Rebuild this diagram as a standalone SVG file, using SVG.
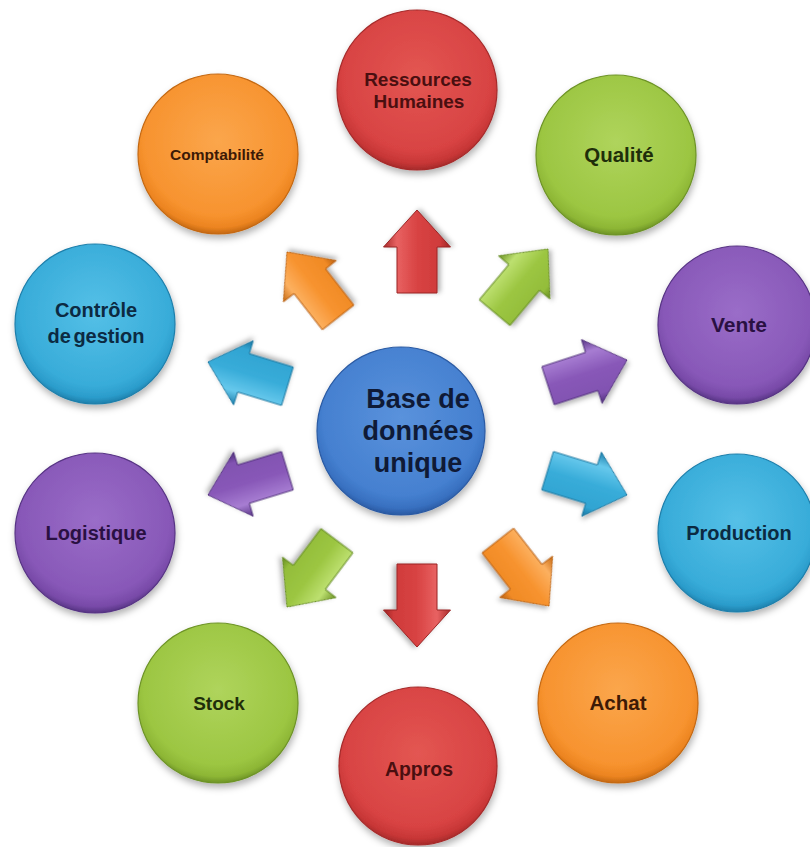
<svg xmlns="http://www.w3.org/2000/svg" width="810" height="847" viewBox="0 0 810 847">
<style>
  text { font-family: "Liberation Sans", Arial, sans-serif; font-weight: bold; text-anchor: middle; }
  .node circle { stroke-width: 1.2; filter: url(#sh); }
  .tRed { fill: #4a0f10; } .tOra { fill: #3d1a06; } .tGre { fill: #1f2e0a; }
  .tCya { fill: #0c2a42; } .tPur { fill: #2a1042; } .tBlu { fill: #0f1a36; }
  .arrows use { filter: url(#sh2); stroke-width: 1; stroke-linejoin: round; }
</style>
<defs>
  <filter id="sh" x="-20%" y="-20%" width="140%" height="150%">
    <feDropShadow dx="1" dy="4" stdDeviation="3.5" flood-color="#000" flood-opacity="0.3"/>
  </filter>
  <filter id="sh2" x="-30%" y="-30%" width="160%" height="160%">
    <feDropShadow dx="1" dy="3" stdDeviation="2.5" flood-color="#000" flood-opacity="0.3"/>
  </filter>
  <radialGradient id="cRed" cx="50%" cy="42%" r="58%"><stop offset="0" stop-color="#e35652"/><stop offset="0.8" stop-color="#d84343"/><stop offset="0.93" stop-color="#c73636"/><stop offset="1" stop-color="#a52a2a"/></radialGradient>
  <radialGradient id="cOra" cx="50%" cy="42%" r="58%"><stop offset="0" stop-color="#fba64c"/><stop offset="0.8" stop-color="#f7932f"/><stop offset="0.93" stop-color="#ec8420"/><stop offset="1" stop-color="#c46812"/></radialGradient>
  <radialGradient id="cGre" cx="50%" cy="42%" r="58%"><stop offset="0" stop-color="#afd45c"/><stop offset="0.8" stop-color="#9cc642"/><stop offset="0.93" stop-color="#8db635"/><stop offset="1" stop-color="#6d9326"/></radialGradient>
  <radialGradient id="cCya" cx="50%" cy="42%" r="58%"><stop offset="0" stop-color="#55c0e7"/><stop offset="0.8" stop-color="#38acd9"/><stop offset="0.93" stop-color="#2b9ccb"/><stop offset="1" stop-color="#1e7fab"/></radialGradient>
  <radialGradient id="cPur" cx="50%" cy="42%" r="58%"><stop offset="0" stop-color="#9a6dc8"/><stop offset="0.8" stop-color="#8858b8"/><stop offset="0.93" stop-color="#784aa8"/><stop offset="1" stop-color="#573484"/></radialGradient>
  <radialGradient id="cBlu" cx="50%" cy="42%" r="58%"><stop offset="0" stop-color="#5a92dc"/><stop offset="0.8" stop-color="#4580d0"/><stop offset="0.93" stop-color="#3870c0"/><stop offset="1" stop-color="#2a5aa3"/></radialGradient>

  <linearGradient id="aRed" x1="0" y1="0" x2="0" y2="1"><stop offset="0" stop-color="#a82a2a"/><stop offset="0.2" stop-color="#e86262"/><stop offset="0.5" stop-color="#d84343"/><stop offset="0.85" stop-color="#cf3b3b"/><stop offset="1" stop-color="#9a2424"/></linearGradient>
  <linearGradient id="aOra" x1="0" y1="0" x2="0" y2="1"><stop offset="0" stop-color="#c46812"/><stop offset="0.2" stop-color="#fcb060"/><stop offset="0.5" stop-color="#f7932f"/><stop offset="0.85" stop-color="#f08a25"/><stop offset="1" stop-color="#b96010"/></linearGradient>
  <linearGradient id="aGre" x1="0" y1="0" x2="0" y2="1"><stop offset="0" stop-color="#6d9326"/><stop offset="0.2" stop-color="#bde070"/><stop offset="0.5" stop-color="#9cc642"/><stop offset="0.85" stop-color="#93bd3a"/><stop offset="1" stop-color="#648a22"/></linearGradient>
  <linearGradient id="aCya" x1="0" y1="0" x2="0" y2="1"><stop offset="0" stop-color="#1e7fab"/><stop offset="0.2" stop-color="#66c8ec"/><stop offset="0.5" stop-color="#38acd9"/><stop offset="0.85" stop-color="#31a4d2"/><stop offset="1" stop-color="#1b76a0"/></linearGradient>
  <linearGradient id="aPur" x1="0" y1="0" x2="0" y2="1"><stop offset="0" stop-color="#573484"/><stop offset="0.2" stop-color="#a77dd2"/><stop offset="0.5" stop-color="#8858b8"/><stop offset="0.85" stop-color="#8152b1"/><stop offset="1" stop-color="#50307a"/></linearGradient>

  <path id="arw" d="M -83 -20 L -37 -20 L -37 -33.5 L 0 0 L -37 33.5 L -37 20 L -83 20 Z"/>
</defs>

<rect width="810" height="847" fill="#ffffff"/>

<g id="connectors" class="arrows">
  <use href="#arw" transform="translate(417,210) rotate(-90)" fill="url(#aRed)" stroke="#9a2424"/>
  <use href="#arw" transform="translate(548,249) rotate(-50)" fill="url(#aGre)" stroke="#648a22"/>
  <use href="#arw" transform="translate(627,360) rotate(-18)" fill="url(#aPur)" stroke="#50307a"/>
  <use href="#arw" transform="translate(627,495) rotate(17)" fill="url(#aCya)" stroke="#1b76a0"/>
  <use href="#arw" transform="translate(549,606) rotate(52)" fill="url(#aOra)" stroke="#b96010"/>
  <use href="#arw" transform="translate(417,647) rotate(90)" fill="url(#aRed)" stroke="#9a2424"/>
  <use href="#arw" transform="translate(287,607) rotate(127)" fill="url(#aGre)" stroke="#648a22"/>
  <use href="#arw" transform="translate(208,495) rotate(163)" fill="url(#aPur)" stroke="#50307a"/>
  <use href="#arw" transform="translate(208,362) rotate(-163)" fill="url(#aCya)" stroke="#1b76a0"/>
  <use href="#arw" transform="translate(287,252) rotate(-128)" fill="url(#aOra)" stroke="#b96010"/>
</g>

<g id="node-base" class="node">
  <circle cx="401" cy="431" r="84" fill="url(#cBlu)" stroke="#2a5aa3"/>
  <text class="tBlu" font-size="27" x="418" y="408">Base de</text>
  <text class="tBlu" font-size="27" x="418" y="440">données</text>
  <text class="tBlu" font-size="27" x="418" y="472">unique</text>
</g>

<g id="node-rh" class="node">
  <circle cx="417" cy="90" r="80" fill="url(#cRed)" stroke="#a52a2a"/>
  <text class="tRed" font-size="19" x="418" y="86">Ressources</text>
  <text class="tRed" font-size="19" x="419" y="108">Humaines</text>
</g>

<g id="node-qualite" class="node">
  <circle cx="616" cy="155" r="80" fill="url(#cGre)" stroke="#6d9326"/>
  <text class="tGre" font-size="20.5" x="619" y="162">Qualité</text>
</g>

<g id="node-comptabilite" class="node">
  <circle cx="218" cy="154" r="80" fill="url(#cOra)" stroke="#c46812"/>
  <text class="tOra" font-size="15.5" x="217" y="160">Comptabilité</text>
</g>

<g id="node-controle" class="node">
  <circle cx="95" cy="324" r="80" fill="url(#cCya)" stroke="#1e7fab"/>
  <text class="tCya" font-size="20" x="96" y="317">Contrôle</text>
  <text class="tCya" font-size="20" x="96" y="343" word-spacing="-3">de gestion</text>
</g>

<g id="node-vente" class="node">
  <circle cx="737" cy="325" r="79" fill="url(#cPur)" stroke="#573484"/>
  <text class="tPur" font-size="21" x="739" y="332">Vente</text>
</g>

<g id="node-logistique" class="node">
  <circle cx="95" cy="533" r="80" fill="url(#cPur)" stroke="#573484"/>
  <text class="tPur" font-size="20" x="96" y="540">Logistique</text>
</g>

<g id="node-production" class="node">
  <circle cx="737" cy="533" r="79" fill="url(#cCya)" stroke="#1e7fab"/>
  <text class="tCya" font-size="20" x="739" y="540">Production</text>
</g>

<g id="node-stock" class="node">
  <circle cx="218" cy="703" r="80" fill="url(#cGre)" stroke="#6d9326"/>
  <text class="tGre" font-size="19" x="219" y="710">Stock</text>
</g>

<g id="node-achat" class="node">
  <circle cx="618" cy="703" r="80" fill="url(#cOra)" stroke="#c46812"/>
  <text class="tOra" font-size="20.5" x="618" y="710">Achat</text>
</g>

<g id="node-appros" class="node">
  <circle cx="418" cy="766" r="79" fill="url(#cRed)" stroke="#a52a2a"/>
  <text class="tRed" font-size="19.5" x="419" y="776">Appros</text>
</g>
</svg>
